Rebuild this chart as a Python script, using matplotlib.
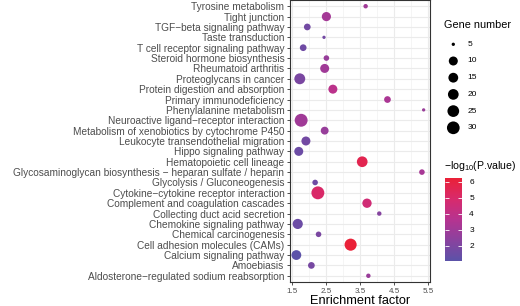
import numpy as np
import matplotlib
matplotlib.use("Agg")
import matplotlib.pyplot as plt
from matplotlib.colors import LinearSegmentedColormap, Normalize

plt.rcParams['font.family'] = ['Liberation Sans', 'DejaVu Sans']
plt.rcParams['mathtext.fontset'] = 'custom'
plt.rcParams['mathtext.rm'] = 'Liberation Sans'
plt.rcParams['mathtext.default'] = 'regular'

M = "\u2212"
# categories, bottom to top
categories = [
    f"Aldosterone{M}regulated sodium reabsorption",
    "Amoebiasis",
    "Calcium signaling pathway",
    "Cell adhesion molecules (CAMs)",
    "Chemical carcinogenesis",
    "Chemokine signaling pathway",
    "Collecting duct acid secretion",
    "Complement and coagulation cascades",
    f"Cytokine{M}cytokine receptor interaction",
    "Glycolysis / Gluconeogenesis",
    f"Glycosaminoglycan biosynthesis {M} heparan sulfate / heparin",
    "Hematopoietic cell lineage",
    "Hippo signaling pathway",
    "Leukocyte transendothelial migration",
    "Metabolism of xenobiotics by cytochrome P450",
    f"Neuroactive ligand{M}receptor interaction",
    "Phenylalanine metabolism",
    "Primary immunodeficiency",
    "Protein digestion and absorption",
    "Proteoglycans in cancer",
    "Rheumatoid arthritis",
    "Steroid hormone biosynthesis",
    "T cell receptor signaling pathway",
    "Taste transduction",
    f"TGF{M}beta signaling pathway",
    "Tight junction",
    "Tyrosine metabolism",
]
enrichment = [3.74, 2.07, 1.63, 3.22, 2.28, 1.67, 4.06, 3.70, 2.26, 2.18,
              5.31, 3.56, 1.70, 1.91, 2.46, 1.77, 5.36, 4.30, 2.70, 1.73,
              2.46, 2.51, 1.83, 2.44, 1.95, 2.51, 3.66]
gene_number = [6, 8, 15, 27, 7, 17, 6, 12, 31, 7,
               7, 20, 10, 10, 9, 31, 5, 8, 10, 21,
               10, 7, 8, 5, 8, 11, 6]
neglog_p = [2.8, 1.8, 1.05, 6.2, 1.9, 1.5, 2.2, 4.6, 5.0, 1.6,
            3.2, 5.6, 1.5, 1.7, 2.7, 3.0, 2.8, 3.3, 3.8, 1.9,
            3.0, 2.7, 1.6, 1.7, 1.7, 3.1, 3.0]

size_breaks = [5, 10, 15, 20, 25, 30]
size_diam_px = [3.3, 9.0, 9.8, 10.7, 11.7, 12.7]
color_ticks = [2, 3, 4, 5, 6]

DPI = 100
def size_scale(g):
    g = np.asarray(g, float)
    d = np.interp(g, size_breaks, size_diam_px)
    d = np.where(g > 30, 12.7 + (g - 30) * 0.2, d)
    return (d * 72 / DPI) ** 2

cmap = LinearSegmentedColormap.from_list(
    "pv", ["#5C52A8", "#8A429E", "#B63390", "#D82A6C", "#EA2138"])
norm = Normalize(vmin=min(neglog_p), vmax=max(neglog_p))

W, H = 520, 306
fig = plt.figure(figsize=(W / DPI, H / DPI), dpi=DPI)
L, R, B, T = 290, 430, 282, 0
ax = fig.add_axes([L / W, 1 - B / H, (R - L) / W, (B - T) / H])

y = np.arange(len(categories))
ax.scatter(enrichment, y, s=size_scale(gene_number), c=neglog_p, cmap=cmap,
           norm=norm, linewidths=0, zorder=3)

xmin, xmax = min(enrichment), max(enrichment)
pad = 0.05 * (xmax - xmin)
ax.set_xlim(xmin - pad, xmax + pad)
ax.set_ylim(-0.6, len(categories) - 0.4)
ax.set_xticks([1.5, 2.5, 3.5, 4.5, 5.5])
ax.set_xticks([2.0, 3.0, 4.0, 5.0], minor=True)
ax.set_yticks(y)
ax.set_yticklabels(categories)
ax.grid(which='major', color='#EBEBEB', linewidth=0.8, zorder=0)
ax.grid(which='minor', axis='x', color='#F2F2F2', linewidth=0.5, zorder=0)
ax.set_axisbelow(True)
for sp in ax.spines.values():
    sp.set_color('#333333')
    sp.set_linewidth(0.8)
ax.tick_params(axis='y', labelsize=7.3, labelcolor='#4D4D4D', color='#333333',
               length=2.5, width=0.6, pad=1.5)
ax.tick_params(axis='x', labelsize=5.8, labelcolor='#4D4D4D', color='#333333',
               length=2.5, width=0.6, pad=1.5)
ax.tick_params(axis='x', which='minor', length=0)
ax.set_xlabel("Enrichment factor", fontsize=9.2, labelpad=0)

# size legend
lax = fig.add_axes([0, 0, 1, 1])
lax.set_xlim(0, W)
lax.set_ylim(H, 0)
lax.axis('off')
lax.text(444, 25, "Gene number", fontsize=7.8, va='center', ha='left')
leg_y = 44.3 + 16.7 * np.arange(len(size_breaks))
lax.scatter([453.3] * len(size_breaks), leg_y, s=size_scale(size_breaks),
            c='black', linewidths=0)
for yy, b in zip(leg_y, size_breaks):
    lax.text(467.5, yy, str(b), fontsize=6.0, va='center', ha='left')

lax.text(444, 166, "\u2212log$_{10}$(P.value)", fontsize=7.6,
         va='center', ha='left')

# colorbar
cax = fig.add_axes([445 / W, 1 - 260.7 / H, 17.3 / W, 82.4 / H])
sm = matplotlib.cm.ScalarMappable(norm=norm, cmap=cmap)
cb = fig.colorbar(sm, cax=cax, ticks=color_ticks)
cb.outline.set_visible(False)
cax.tick_params(direction='in', color='white', length=3, width=0.6,
                left=True, right=True, labelsize=6.0, pad=5)
cax.set_yticklabels([str(t) for t in color_ticks])

fig.savefig("out.png", dpi=DPI)
